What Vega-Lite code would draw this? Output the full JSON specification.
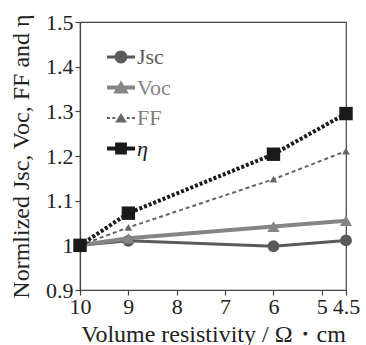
{
  "$schema": "https://vega.github.io/schema/vega-lite/v6.json",
  "width": 266,
  "height": 268,
  "autosize": "none",
  "padding": {"left": 80, "top": 22, "right": 20, "bottom": 55},
  "background": "white",
  "config": {
    "view": {"stroke": "#444", "strokeWidth": 1.2},
    "font": "Liberation Serif",
    "axis": {
      "grid": false, "domainColor": "#444", "domainWidth": 1.2, "tickColor": "#444", "tickWidth": 1.2,
      "tickSize": 5, "labelColor": "#222", "titleFontWeight": "normal", "titleColor": "#222"
    }
  },
  "data": {"values": [
    {"r": 10, "v": 1.0, "s": "Jsc"}, {"r": 9, "v": 1.01, "s": "Jsc"}, {"r": 6, "v": 0.998, "s": "Jsc"}, {"r": 4.5, "v": 1.011, "s": "Jsc"},
    {"r": 10, "v": 1.0, "s": "Voc"}, {"r": 9, "v": 1.016, "s": "Voc"}, {"r": 6, "v": 1.042, "s": "Voc"}, {"r": 4.5, "v": 1.055, "s": "Voc"},
    {"r": 10, "v": 1.0, "s": "FF"}, {"r": 9, "v": 1.04, "s": "FF"}, {"r": 6, "v": 1.148, "s": "FF"}, {"r": 4.5, "v": 1.211, "s": "FF"},
    {"r": 10, "v": 1.0, "s": "η"}, {"r": 9, "v": 1.072, "s": "η"}, {"r": 6, "v": 1.204, "s": "η"}, {"r": 4.5, "v": 1.295, "s": "η"}
  ]},
  "encoding": {
    "x": {"field": "r", "type": "quantitative",
      "scale": {"domain": [4.5, 10], "reverse": true, "zero": false, "nice": false},
      "axis": {"values": [10, 9, 8, 7, 6, 5, 4.5], "labelExpr": "'' + datum.value", "title": "Volume resistivity / Ω・cm",
        "labelFont": "Liberation Serif", "labelFontSize": 22, "titleFont": "Liberation Serif", "titleFontSize": 24,
        "labelPadding": 1, "titlePadding": 5, "labelFlush": false, "labelOverlap": false}},
    "y": {"field": "v", "type": "quantitative",
      "scale": {"domain": [0.9, 1.5], "zero": false, "nice": false},
      "axis": {"values": [0.9, 1.0, 1.1, 1.2, 1.3, 1.4, 1.5], "labelExpr": "'' + datum.value", "title": "Normlized Jsc, Voc, FF and η",
        "labelFont": "Liberation Serif", "labelFontSize": 22, "titleFont": "Liberation Serif", "titleFontSize": 24,
        "labelPadding": 2, "titleX": -52, "titleBaseline": "alphabetic", "labelFlush": false, "labelOverlap": false}},
    "color": {"field": "s", "type": "nominal",
      "scale": {"domain": ["Jsc", "Voc", "FF", "η"], "range": ["#5a5a5a", "#858585", "#666666", "#1a1a1a"]},
      "legend": {
        "orient": "none", "legendX": 27, "legendY": 21, "title": null, "padding": 0,
        "symbolSize": 784, "rowPadding": 5.5, "labelOffset": 2,
        "labelFont": "Liberation Serif", "labelFontSize": 22,
        "encode": {
          "symbols": {"update": {
            "shape": {"signal": "datum.value === 'Jsc' ? 'M-1,-0.11H1V0.11H-1Z M0.46,0A0.46,0.46 0 1,1 -0.46,0A0.46,0.46 0 1,1 0.46,0Z' : datum.value === 'Voc' ? 'M-1,-0.14H1V0.14H-1Z M0,-0.5L0.56,0.42L-0.56,0.42Z' : datum.value === 'FF' ? 'M-1,-0.07H-0.78V0.07H-1Z M-0.62,-0.07H-0.4V0.07H-0.62Z M0.4,-0.07H0.62V0.07H0.4Z M0.78,-0.07H1V0.07H0.78Z M0,-0.36L0.42,0.32L-0.42,0.32Z' : 'M-1,-0.15H1V0.15H-1Z M-0.42,-0.42H0.42V0.42H-0.42Z'"},
            "fill": {"signal": "datum.value === 'Jsc' ? '#5a5a5a' : datum.value === 'Voc' ? '#858585' : datum.value === 'FF' ? '#666666' : '#1a1a1a'"},
            "stroke": {"value": "transparent"},
            "strokeWidth": {"value": 0},
            "size": {"value": 784},
            "opacity": {"value": 1}
          }},
          "labels": {"update": {
            "fill": {"signal": "datum.value === 'Jsc' ? '#5a5a5a' : datum.value === 'Voc' ? '#858585' : datum.value === 'FF' ? '#808080' : '#1a1a1a'"},
            "fontStyle": {"signal": "datum.value === 'η' ? 'italic' : 'normal'"}
          }}
        }
      }}
  },
  "layer": [
    {
      "transform": [{"filter": "datum.s === 'Jsc'"}],
      "mark": {"type": "line", "strokeWidth": 3, "point": {"shape": "circle", "size": 140, "filled": true, "opacity": 1}}
    },
    {
      "transform": [{"filter": "datum.s === 'Voc'"}],
      "mark": {"type": "line", "strokeWidth": 4, "point": {"shape": "triangle-up", "size": 150, "filled": true, "opacity": 1}}
    },
    {
      "transform": [{"filter": "datum.s === 'FF'"}],
      "mark": {"type": "line", "strokeWidth": 2, "strokeDash": [4, 3], "point": {"shape": "triangle-up", "size": 60, "filled": true, "opacity": 1}}
    },
    {
      "transform": [{"filter": "datum.s === 'η'"}],
      "mark": {"type": "line", "strokeWidth": 4, "strokeDash": [3, 2], "point": {"shape": "square", "size": 180, "filled": true, "opacity": 1}}
    }
  ]
}
